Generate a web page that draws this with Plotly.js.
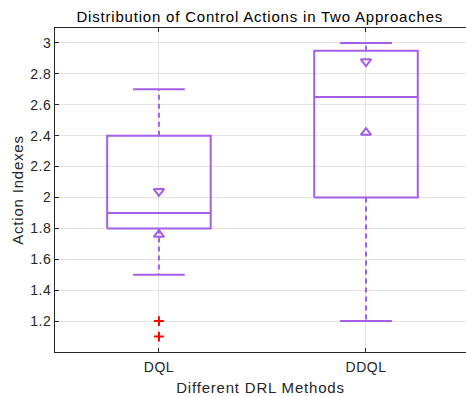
<!DOCTYPE html>
<html>
<head>
<meta charset="utf-8">
<script src="https://cdn.plot.ly/plotly-3.0.1.min.js"></script>
<style>
html,body{margin:0;padding:0;overflow:hidden;background:#fff}
#chart text.gtitle, #chart text.xtitle, #chart text.ytitle{letter-spacing:0.8px}
#chart .xtick text, #chart .ytick text{letter-spacing:0.5px}
</style>
</head>
<body>
<div id="chart" style="width:466px;height:396px"></div>
<script>
// ---- data ----
const categories = ['DQL', 'DDQL'];
const q1 = [1.8, 2.0];
const medians = [1.9, 2.65];
const q3 = [2.4, 2.95];
const lowerWhisker = [1.5, 1.2];
const upperWhisker = [2.7, 3.0];
const notchLow = [1.76, 2.42];
const notchHigh = [2.04, 2.88];
const outlierValues = [[1.2, 1.1], []];
const yTicks = [1.2, 1.4, 1.6, 1.8, 2, 2.2, 2.4, 2.6, 2.8, 3];

// ---- style ----
const purple = '#a45ee8';
const boxHalf = 0.25, capHalf = 0.125;
const traces = [];
const pos = categories.map((c, i) => i + 1);

pos.forEach((x, i) => {
  traces.push({x: [x - boxHalf, x + boxHalf, x + boxHalf, x - boxHalf, x - boxHalf],
    y: [q1[i], q1[i], q3[i], q3[i], q1[i]], mode: 'lines', line: {color: purple, width: 2}, hoverinfo: 'skip'});
  traces.push({x: [x - boxHalf, x + boxHalf], y: [medians[i], medians[i]], mode: 'lines', line: {color: purple, width: 2}, hoverinfo: 'skip'});
  traces.push({x: [x, x], y: [q3[i], upperWhisker[i]], mode: 'lines', line: {color: purple, width: 2, dash: '5px,4px'}, hoverinfo: 'skip'});
  traces.push({x: [x, x], y: [q1[i], lowerWhisker[i]], mode: 'lines', line: {color: purple, width: 2, dash: '5px,4px'}, hoverinfo: 'skip'});
  traces.push({x: [x - capHalf, x + capHalf], y: [upperWhisker[i], upperWhisker[i]], mode: 'lines', line: {color: purple, width: 2}, hoverinfo: 'skip'});
  traces.push({x: [x - capHalf, x + capHalf], y: [lowerWhisker[i], lowerWhisker[i]], mode: 'lines', line: {color: purple, width: 2}, hoverinfo: 'skip'});
  traces.push({x: [x], y: [notchHigh[i]], mode: 'markers', marker: {symbol: 'triangle-down-open', size: 9, color: purple, line: {color: purple, width: 2}}, hoverinfo: 'skip'});
  traces.push({x: [x], y: [notchLow[i]], mode: 'markers', marker: {symbol: 'triangle-up-open', size: 9, color: purple, line: {color: purple, width: 2}}, hoverinfo: 'skip'});
  if (outlierValues[i].length) {
    traces.push({x: outlierValues[i].map(() => x), y: outlierValues[i], mode: 'markers',
      marker: {symbol: 'cross-thin', size: 7, color: 'red', line: {color: 'red', width: 2}}, hoverinfo: 'skip'});
  }
});

const fam = '"Liberation Sans", Arial, sans-serif';
const layout = {
  width: 466, height: 396,
  margin: {l: 55, r: 0, t: 28, b: 44},
  showlegend: false,
  paper_bgcolor: '#fff', plot_bgcolor: '#fff',
  font: {family: fam, color: '#262626', size: 14},
  title: {text: 'Distribution of Control Actions in Two Approaches', font: {size: 15, color: '#000'}, x: 0.5575, xanchor: 'center', y: 0.958, yanchor: 'middle'},
  xaxis: {
    range: [0.498, 2.483], tickvals: pos, ticktext: categories,
    showgrid: true, gridcolor: '#e3e3e3', zeroline: false,
    showline: true, linecolor: '#262626', linewidth: 1, mirror: 'ticks',
    ticks: 'inside', ticklen: 4, tickcolor: '#262626', ticklabelstandoff: 2,
    tickfont: {size: 14, color: '#262626'},
    title: {text: 'Different DRL Methods', font: {size: 15, color: '#262626'}, standoff: 8}
  },
  yaxis: {
    range: [1.0, 3.097], tickvals: yTicks,
    showgrid: true, gridcolor: '#e3e3e3', zeroline: false,
    showline: true, linecolor: '#262626', linewidth: 1,
    ticks: 'inside', ticklen: 4, tickcolor: '#262626',
    tickfont: {size: 14, color: '#262626'},
    title: {text: 'Action Indexes', font: {size: 15, color: '#262626'}, standoff: 4}
  }
};
Plotly.newPlot('chart', traces, layout, {displayModeBar: false, staticPlot: true});
</script>
</body>
</html>
